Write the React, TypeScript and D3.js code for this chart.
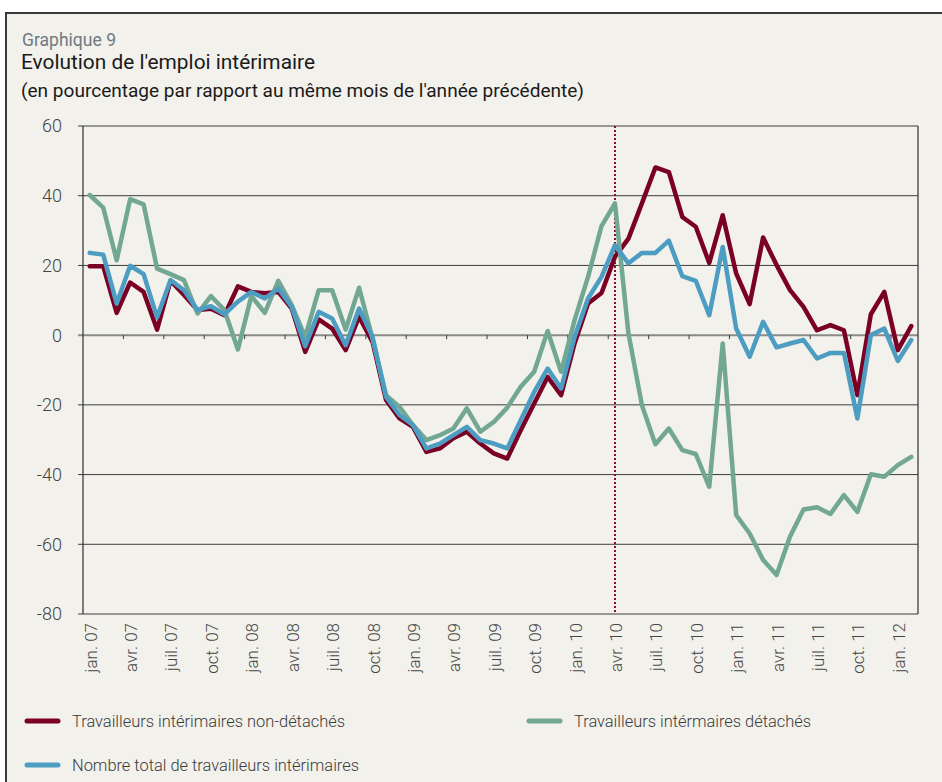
import React, { useEffect, useRef } from 'react';
import * as d3 from 'd3';

// months jan. 07 -> févr. 12
const months = [
  'jan. 07', 'févr. 07', 'mars 07', 'avr. 07', 'mai 07', 'juin 07', 'juil. 07', 'août 07', 'sept. 07', 'oct. 07', 'nov. 07', 'déc. 07',
  'jan. 08', 'févr. 08', 'mars 08', 'avr. 08', 'mai 08', 'juin 08', 'juil. 08', 'août 08', 'sept. 08', 'oct. 08', 'nov. 08', 'déc. 08',
  'jan. 09', 'févr. 09', 'mars 09', 'avr. 09', 'mai 09', 'juin 09', 'juil. 09', 'août 09', 'sept. 09', 'oct. 09', 'nov. 09', 'déc. 09',
  'jan. 10', 'févr. 10', 'mars 10', 'avr. 10', 'mai 10', 'juin 10', 'juil. 10', 'août 10', 'sept. 10', 'oct. 10', 'nov. 10', 'déc. 10',
  'jan. 11', 'févr. 11', 'mars 11', 'avr. 11', 'mai 11', 'juin 11', 'juil. 11', 'août 11', 'sept. 11', 'oct. 11', 'nov. 11', 'déc. 11',
  'jan. 12', 'févr. 12',
];

const tickLabels = [
  'jan. 07', 'avr. 07', 'juil. 07', 'oct. 07', 'jan. 08', 'avr. 08', 'juil. 08', 'oct. 08',
  'jan. 09', 'avr. 09', 'juil. 09', 'oct. 09', 'jan. 10', 'avr. 10', 'juil. 10', 'oct. 10',
  'jan. 11', 'avr. 11', 'juil. 11', 'oct. 11', 'jan. 12',
];

const yTicks = [60, 40, 20, 0, -20, -40, -60, -80];

const nonDetaches = [
  19.8, 19.8, 6.4, 15.1, 12.4, 1.6, 15.6, 11.5, 7.2, 7.6, 5.7, 14,
  12.4, 12, 12.4, 7.6, -4.8, 4.5, 1.9, -4.3, 5.3, -2, -18.6, -23.9,
  -26.3, -33.5, -32.5, -29.6, -27.7, -31.1, -33.9, -35.4, -27.3, -19.6, -12, -17.2,
  -2.4, 9.1, 12.1, 22.5, 27.7, 37.8, 48.1, 46.8, 33.9, 31.1, 20.7, 34.4,
  17.7, 8.9, 28, 20.1, 12.9, 8.1, 1.4, 2.9, 1.4, -17.2, 6, 12.4,
  -4.3, 2.6,
];

const detaches = [
  40.2, 36.6, 21.5, 39, 37.5, 19.1, 17.5, 15.8, 6.2, 11.2, 7.2, -4.1,
  11.2, 6.4, 15.6, 8.6, -0.5, 12.9, 12.9, 1.6, 13.6, -1, -17.2, -20.6,
  -25.8, -30.1, -28.7, -26.8, -21, -27.7, -24.9, -20.8, -14.8, -10.5, 1.2, -10.5,
  4.3, 16.7, 31.3, 37.8, 0.5, -20.1, -31.3, -26.8, -33, -34.1, -43.5, -2.4,
  -51.6, -56.9, -64.5, -68.8, -57.8, -50, -49.4, -51.3, -45.9, -50.7, -39.9, -40.6,
  -37.3, -34.9,
];

const total = [
  23.6, 23.1, 9.1, 19.9, 17.5, 5.1, 15.8, 12.9, 7.2, 8.3, 6, 9.6,
  12.4, 10.5, 13.4, 8.1, -3.2, 6.7, 4.8, -2.9, 7.6, -0.5, -17.7, -22.9,
  -25.8, -32.5, -31.1, -28.7, -26.3, -30.1, -31.1, -32.5, -24.4, -16.3, -9.6, -15.3,
  -0.5, 10.5, 16.7, 25.8, 20.6, 23.6, 23.6, 27.1, 16.9, 15.6, 5.7, 25.3,
  1.9, -6.2, 3.8, -3.5, -2.4, -1.4, -6.7, -5.1, -5.1, -23.9, 0, 1.9,
  -7.4, -1.4,
];

const seriesNames = [
  'Travailleurs intérimaires non-détachés',
  'Travailleurs intérmaires détachés',
  'Nombre total de travailleurs intérimaires',
];
const seriesColors = ['#7b0025', '#72a793', '#4d9dc3'];

const markerMonth = 'avr. 10';

const App = () => {
  const chartRef = useRef<SVGSVGElement>(null);

  useEffect(() => {
    const width = 942;
    const height = 782;
    const font = 'Roboto, "Noto Sans", sans-serif';

    const svg = d3.select(chartRef.current);
    svg.selectAll('*').remove();

    // page + panel
    svg.append('rect').attr('width', width).attr('height', height).attr('fill', '#ffffff');
    svg.append('rect').attr('x', 6).attr('y', 13).attr('width', width - 6).attr('height', height - 13).attr('fill', '#f2f1eb');
    svg.append('line').attr('x1', 5).attr('x2', width).attr('y1', 13).attr('y2', 13).attr('stroke', '#3a3a3a').attr('stroke-width', 2);
    svg.append('line').attr('x1', 6).attr('x2', 6).attr('y1', 12).attr('y2', height).attr('stroke', '#3a3a3a').attr('stroke-width', 2);

    // titles (narrow DIN-like look: squeeze glyphs to the measured widths)
    svg.append('text').attr('x', 22).attr('y', 46).attr('font-family', font).attr('font-size', 18)
      .attr('fill', '#6f7a82').attr('textLength', 94).attr('lengthAdjust', 'spacingAndGlyphs').text('Graphique 9');
    svg.append('text').attr('x', 21).attr('y', 69).attr('font-family', font).attr('font-size', 21)
      .attr('fill', '#1a1a1a').attr('textLength', 294).attr('lengthAdjust', 'spacingAndGlyphs').text("Evolution de l'emploi intérimaire");
    svg.append('text').attr('x', 21).attr('y', 97).attr('font-family', font).attr('font-size', 18.5)
      .attr('fill', '#1a1a1a').attr('textLength', 563).attr('lengthAdjust', 'spacingAndGlyphs').text("(en pourcentage par rapport au même mois de l'année précédente)");

    const x = d3.scaleBand().domain(months).range([83, 918]);
    const y = d3.scaleLinear().domain([-80, 60]).range([614, 126]);
    const cx = (m: string) => (x(m) as number) + x.bandwidth() / 2;

    // gridlines + y labels
    yTicks.forEach((t) => {
      const isZero = t === 0;
      svg.append('line')
        .attr('x1', 78).attr('x2', 918)
        .attr('y1', y(t)).attr('y2', y(t))
        .attr('stroke', isZero ? '#8a8a88' : '#3c3c3c')
        .attr('stroke-width', isZero ? 2 : 1);
      svg.append('text')
        .attr('x', 62).attr('y', y(t)).attr('dy', '0.36em')
        .attr('text-anchor', 'end')
        .attr('font-family', font).attr('font-size', 18).attr('font-weight', 300)
        .attr('fill', '#444444')
        .text(t);
    });

    // axes frame
    svg.append('line').attr('x1', 83).attr('x2', 83).attr('y1', 126).attr('y2', 614).attr('stroke', '#2f2f2f').attr('stroke-width', 1.2);
    svg.append('line').attr('x1', 918).attr('x2', 918).attr('y1', 126).attr('y2', 614).attr('stroke', '#2f2f2f').attr('stroke-width', 1.2);

    // category ticks on the zero line, every 3 months
    for (let i = 3; i < months.length; i += 3) {
      const tx = x(months[i]) as number;
      svg.append('line').attr('x1', tx).attr('x2', tx)
        .attr('y1', y(0)).attr('y2', y(0) + 4)
        .attr('stroke', '#3c3c3c').attr('stroke-width', 1);
    }

    // x labels
    tickLabels.forEach((lab) => {
      const lx = cx(lab) + 1;
      svg.append('text')
        .attr('transform', `translate(${lx},623) rotate(-90)`)
        .attr('dy', '0.35em')
        .attr('text-anchor', 'end')
        .attr('font-family', font).attr('font-size', 17).attr('font-weight', 300)
        .attr('fill', '#444444')
        .text(lab);
    });

    // vertical dotted marker
    svg.append('line')
      .attr('x1', cx(markerMonth)).attr('x2', cx(markerMonth))
      .attr('y1', 126).attr('y2', 614)
      .attr('stroke', '#8b0a2e').attr('stroke-width', 2)
      .attr('stroke-dasharray', '2,2');

    // lines
    const line = d3.line<number>()
      .x((d, i) => cx(months[i]))
      .y((d) => y(d));

    [nonDetaches, detaches, total].forEach((vals, k) => {
      svg.append('path')
        .datum(vals)
        .attr('d', line)
        .attr('fill', 'none')
        .attr('stroke', seriesColors[k])
        .attr('stroke-width', 4.5)
        .attr('stroke-linejoin', 'round')
        .attr('stroke-linecap', 'round');
    });

    // legend
    const legendPos = [
      { x: 25, y: 721, w: 273 },
      { x: 527, y: 721, w: 237 },
      { x: 25, y: 765, w: 287 },
    ];
    legendPos.forEach((p, k) => {
      svg.append('line')
        .attr('x1', p.x + 2).attr('x2', p.x + 33)
        .attr('y1', p.y).attr('y2', p.y)
        .attr('stroke', seriesColors[k]).attr('stroke-width', 5)
        .attr('stroke-linecap', 'round');
      svg.append('text')
        .attr('x', p.x + 47).attr('y', p.y).attr('dy', '0.35em')
        .attr('font-family', font).attr('font-size', 16).attr('font-weight', 300)
        .attr('fill', '#3a3a3a')
        .attr('textLength', p.w).attr('lengthAdjust', 'spacingAndGlyphs')
        .text(seriesNames[k]);
    });

    return () => {
      d3.select(chartRef.current).selectAll('*').remove();
    };
  }, []);

  return (
    <svg
      ref={chartRef}
      width={942}
      height={782}
      style={{ position: 'absolute', left: 0, top: 0, display: 'block' }}
    />
  );
};

export default App;
